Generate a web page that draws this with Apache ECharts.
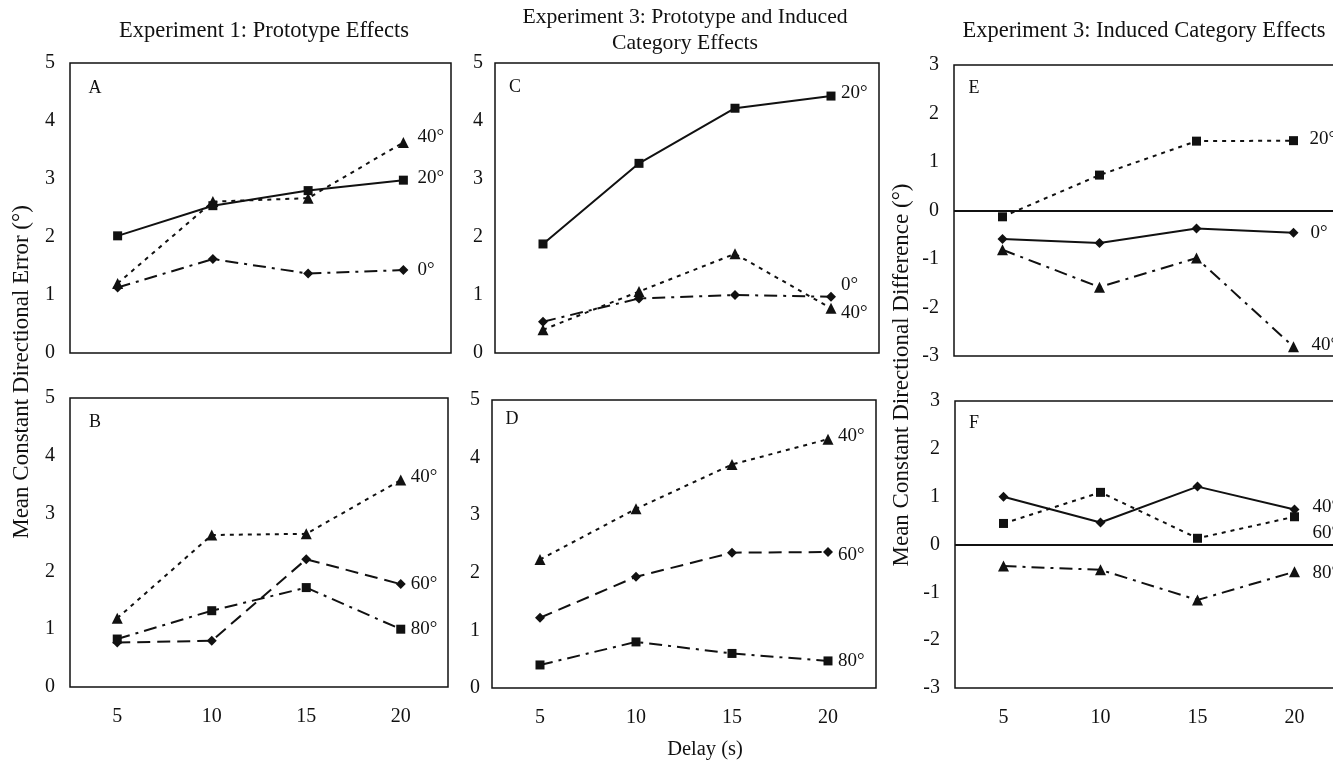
<!DOCTYPE html>
<html>
<head>
<meta charset="utf-8">
<script src="https://cdn.jsdelivr.net/npm/echarts@6/dist/echarts.min.js"></script>
<style>
html,body{margin:0;padding:0;background:#fff;}
#chart{width:1333px;height:761px;}
</style>
</head>
<body>
<div id="chart"></div>
<script>
// ---- data ----
const delays = ['5', '10', '15', '20'];
const errorTicks = [0, 5];       // y range panels A-D
const diffTicks = [-3, 3];       // y range panels E-F

// Panel A: Experiment 1, prototype effects
const A_names = ['20°', '40°', '0°'];
const A_20 = [2.02, 2.54, 2.80, 2.98];
const A_40 = [1.20, 2.61, 2.67, 3.63];
const A_0  = [1.13, 1.62, 1.37, 1.43];
// Panel B
const B_names = ['40°', '60°', '80°'];
const B_40 = [1.19, 2.63, 2.65, 3.58];
const B_60 = [0.77, 0.80, 2.21, 1.78];
const B_80 = [0.83, 1.32, 1.72, 1.00];
// Panel C: Experiment 3, prototype and induced category effects
const C_names = ['20°', '40°', '0°'];
const C_20 = [1.88, 3.27, 4.22, 4.43];
const C_40 = [0.40, 1.06, 1.71, 0.77];
const C_0  = [0.54, 0.94, 1.00, 0.97];
// Panel D
const D_names = ['40°', '60°', '80°'];
const D_40 = [2.23, 3.11, 3.88, 4.32];
const D_60 = [1.22, 1.93, 2.35, 2.36];
const D_80 = [0.40, 0.80, 0.60, 0.47];
// Panel E: Experiment 3, induced category effects
const E_names = ['20°', '0°', '40°'];
const E_20 = [-0.13, 0.73, 1.43, 1.44];
const E_0  = [-0.59, -0.67, -0.37, -0.46];
const E_40 = [-0.81, -1.58, -0.98, -2.81];
// Panel F
const F_names = ['40°', '60°', '80°'];
const F_40 = [1.00, 0.46, 1.21, 0.73];
const F_60 = [0.44, 1.09, 0.13, 0.58];
const F_80 = [-0.45, -0.53, -1.16, -0.57];

// ---- styles ----
const FONT = '"Liberation Serif", "Times New Roman", serif';
const INK = '#111';
const SOLID = 'solid';
const DOT = [4, 5];
const DASH = [13, 7];
const DASHDOT = [13, 6, 3, 6];
const SYM = { rect: 9, triangle: 11, diamond: 10 };

const grids = [
  { left: 70,  top: 63,  width: 381, height: 290 },
  { left: 70,  top: 398, width: 378, height: 289 },
  { left: 495, top: 63,  width: 384, height: 290 },
  { left: 492, top: 400, width: 384, height: 288 },
  { left: 954, top: 65,  width: 388, height: 291 },
  { left: 955, top: 401, width: 388, height: 287 }
].map(g => Object.assign({ show: true, borderColor: INK, borderWidth: 1.5,
  containLabel: false, outerBoundsMode: 'none' }, g));

const xAxes = grids.map((g, i) => ({
  type: 'category', gridIndex: i, data: delays, boundaryGap: true,
  axisLine: { show: false }, axisTick: { show: false }, splitLine: { show: false },
  axisLabel: { show: i % 2 === 1, fontFamily: FONT, fontSize: 20, color: INK, margin: 20 }
}));
const yAxes = grids.map((g, i) => {
  const r = i < 4 ? errorTicks : diffTicks;
  return {
    type: 'value', gridIndex: i, min: r[0], max: r[1], interval: 1,
    axisLine: { show: false }, axisTick: { show: false }, splitLine: { show: false },
    axisLabel: { fontFamily: FONT, fontSize: 20, color: INK, margin: i === 2 || i === 3 ? 12 : 15 }
  };
});

function line(panel, name, data, symbol, dash, labelOffset, extra) {
  const s = {
    type: 'line', name: name, xAxisIndex: panel, yAxisIndex: panel, data: data,
    symbol: symbol, symbolSize: SYM[symbol], showSymbol: true,
    itemStyle: { color: INK },
    lineStyle: { color: INK, width: 2, type: dash },
    endLabel: { show: true, formatter: p => p.seriesName, fontFamily: FONT, fontSize: 19,
      color: INK, distance: 10, offset: labelOffset || [0, 0] },
    z: 3
  };
  return Object.assign(s, extra || {});
}
const zeroLine = {
  markLine: { silent: true, symbol: ['none', 'none'], label: { show: false },
    lineStyle: { color: INK, type: 'solid', width: 1.8 }, data: [{ yAxis: 0 }] }
};

const series = [
  line(0, A_names[0], A_20, 'rect', SOLID, [4, -2]),
  line(0, A_names[1], A_40, 'triangle', DOT, [4, -5]),
  line(0, A_names[2], A_0, 'diamond', DASHDOT, [4, 0]),
  line(1, B_names[0], B_40, 'triangle', DOT, [0, -3]),
  line(1, B_names[1], B_60, 'diamond', DASH),
  line(1, B_names[2], B_80, 'rect', DASHDOT),
  line(2, C_names[0], C_20, 'rect', SOLID, [0, -3]),
  line(2, C_names[1], C_40, 'triangle', DOT, [0, 5]),
  line(2, C_names[2], C_0, 'diamond', DASHDOT, [0, -12]),
  line(3, D_names[0], D_40, 'triangle', DOT, [0, -3]),
  line(3, D_names[1], D_60, 'diamond', DASH, [0, 3]),
  line(3, D_names[2], D_80, 'rect', DASHDOT),
  line(4, E_names[0], E_20, 'rect', DOT, [6, -2], zeroLine),
  line(4, E_names[1], E_0, 'diamond', SOLID, [7, 0]),
  line(4, E_names[2], E_40, 'triangle', DASHDOT, [8, -2]),
  line(5, F_names[0], F_40, 'diamond', SOLID, [8, -3], zeroLine),
  line(5, F_names[1], F_60, 'rect', DOT, [8, 16]),
  line(5, F_names[2], F_80, 'triangle', DASHDOT, [8, 1])
];

function txt(x, y, text, opts) {
  return Object.assign({
    type: 'text', x: x, y: y, silent: true,
    style: Object.assign({ text: text, font: '20px ' + FONT, fill: INK,
      align: 'center', verticalAlign: 'middle' }, (opts && opts.style) || {})
  }, opts && opts.rotation !== undefined ? { rotation: opts.rotation } : {});
}
const TITLE_FONT = { style: { font: '22.5px ' + FONT } };
const TITLE2_FONT = { style: { font: '21.7px ' + FONT } };
const AXIS_TITLE = { rotation: Math.PI / 2, style: { font: '23px ' + FONT } };
const LETTER = { style: { font: '18px ' + FONT } };

const graphics = [
  txt(264, 31, 'Experiment 1: Prototype Effects', TITLE_FONT),
  txt(685, 17, 'Experiment 3: Prototype and Induced', TITLE2_FONT),
  txt(685, 43, 'Category Effects', TITLE2_FONT),
  txt(1144, 31, 'Experiment 3: Induced Category Effects', TITLE_FONT),
  txt(22, 372, 'Mean Constant Directional Error (°)', AXIS_TITLE),
  txt(902, 375, 'Mean Constant Directional Difference (°)', AXIS_TITLE),
  txt(705, 750, 'Delay (s)', { style: { font: '20.5px ' + FONT } }),
  txt(95, 88, 'A', LETTER),
  txt(95, 422, 'B', LETTER),
  txt(515, 87, 'C', LETTER),
  txt(512, 419, 'D', LETTER),
  txt(974, 88, 'E', LETTER),
  txt(974, 423, 'F', LETTER)
];

const chart = echarts.init(document.getElementById('chart'), null, { renderer: 'canvas' });
chart.setOption({
  animation: false,
  backgroundColor: '#fff',
  grid: grids,
  xAxis: xAxes,
  yAxis: yAxes,
  series: series,
  graphic: graphics
});
</script>
</body>
</html>
